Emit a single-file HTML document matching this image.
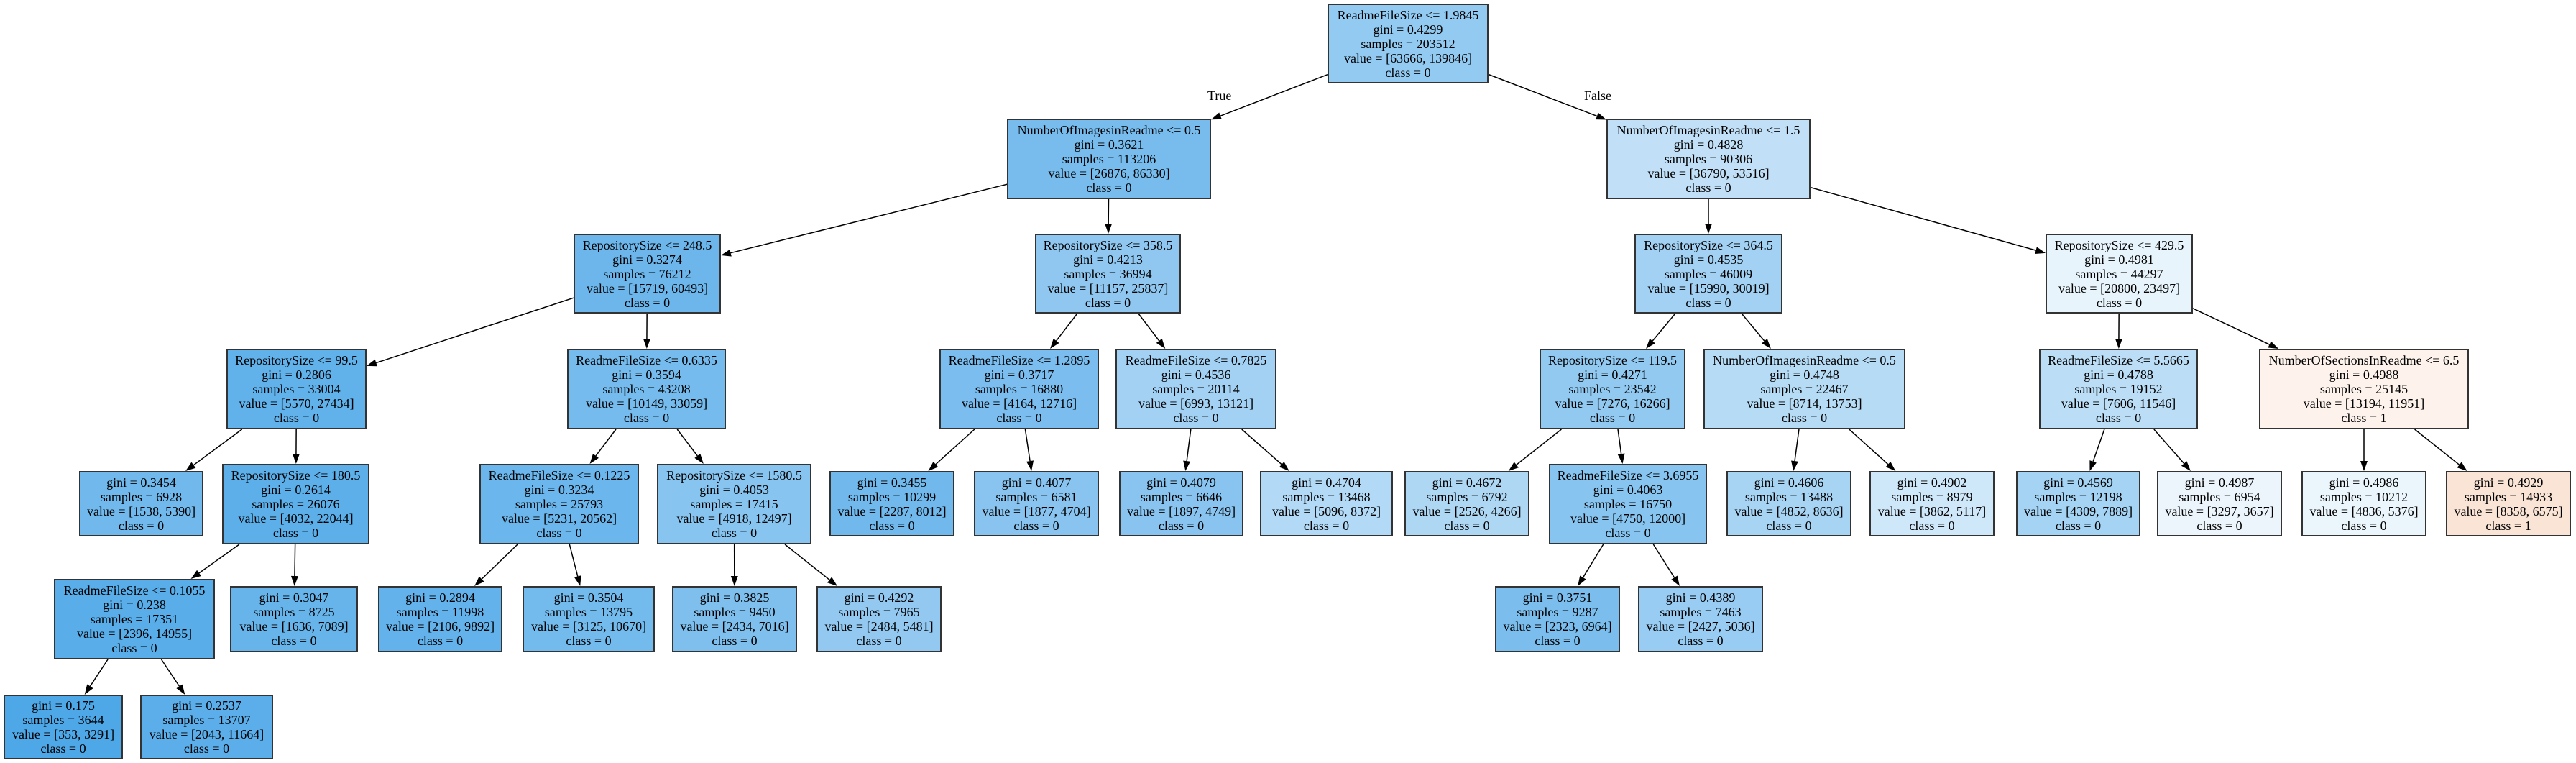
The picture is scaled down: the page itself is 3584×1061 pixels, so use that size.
<!DOCTYPE html>
<html><head><meta charset="utf-8">
<style>
html,body{margin:0;padding:0;background:#fff;}
#c{position:relative;width:3584px;height:1061px;overflow:hidden;font-family:"Liberation Serif",serif;font-size:18px;color:#000;}
.n{position:absolute;box-sizing:border-box;border:2px solid #333;display:flex;flex-direction:column;justify-content:center;align-items:center;line-height:20px;white-space:nowrap;text-align:center;}
.l{position:absolute;font-size:18px;}
svg{position:absolute;left:0;top:0;}
</style></head><body>
<div id="c">
<svg id="s" width="3584" height="1061"></svg>
<div class="l" style="left:1680px;top:123px">True</div>
<div class="l" style="left:2204px;top:123px">False</div>

<div class="n" id="n0" style="left:1847px;top:5px;width:224px;height:111px;background:rgb(147,202,241)"><div>ReadmeFileSize &lt;= 1.9845</div><div>gini = 0.4299</div><div>samples = 203512</div><div>value = [63666, 139846]</div><div>class = 0</div></div>

<div class="n" id="n1" style="left:1401px;top:165px;width:284px;height:112px;background:rgb(119,188,237)"><div>NumberOfImagesinReadme &lt;= 0.5</div><div>gini = 0.3621</div><div>samples = 113206</div><div>value = [26876, 86330]</div><div>class = 0</div></div>
<div class="n" id="n2" style="left:2235px;top:165px;width:284px;height:112px;background:rgb(193,224,247)"><div>NumberOfImagesinReadme &lt;= 1.5</div><div>gini = 0.4828</div><div>samples = 90306</div><div>value = [36790, 53516]</div><div>class = 0</div></div>

<div class="n" id="n3" style="left:798px;top:325px;width:205px;height:111px;background:rgb(108,182,236)"><div>RepositorySize &lt;= 248.5</div><div>gini = 0.3274</div><div>samples = 76212</div><div>value = [15719, 60493]</div><div>class = 0</div></div>
<div class="n" id="n4" style="left:1440px;top:325px;width:203px;height:111px;background:rgb(143,199,240)"><div>RepositorySize &lt;= 358.5</div><div>gini = 0.4213</div><div>samples = 36994</div><div>value = [11157, 25837]</div><div>class = 0</div></div>
<div class="n" id="n5" style="left:2274px;top:325px;width:206px;height:111px;background:rgb(162,209,243)"><div>RepositorySize &lt;= 364.5</div><div>gini = 0.4535</div><div>samples = 46009</div><div>value = [15990, 30019]</div><div>class = 0</div></div>
<div class="n" id="n6" style="left:2846px;top:325px;width:205px;height:111px;background:rgb(232,244,252)"><div>RepositorySize &lt;= 429.5</div><div>gini = 0.4981</div><div>samples = 44297</div><div>value = [20800, 23497]</div><div>class = 0</div></div>

<div class="n" id="n7" style="left:315px;top:485px;width:195px;height:112px;background:rgb(97,177,234)"><div>RepositorySize &lt;= 99.5</div><div>gini = 0.2806</div><div>samples = 33004</div><div>value = [5570, 27434]</div><div>class = 0</div></div>
<div class="n" id="n8" style="left:789px;top:485px;width:221px;height:112px;background:rgb(118,187,237)"><div>ReadmeFileSize &lt;= 0.6335</div><div>gini = 0.3594</div><div>samples = 43208</div><div>value = [10149, 33059]</div><div>class = 0</div></div>
<div class="n" id="n9" style="left:1307px;top:485px;width:222px;height:112px;background:rgb(122,189,238)"><div>ReadmeFileSize &lt;= 1.2895</div><div>gini = 0.3717</div><div>samples = 16880</div><div>value = [4164, 12716]</div><div>class = 0</div></div>
<div class="n" id="n10" style="left:1552px;top:485px;width:224px;height:112px;background:rgb(163,209,243)"><div>ReadmeFileSize &lt;= 0.7825</div><div>gini = 0.4536</div><div>samples = 20114</div><div>value = [6993, 13121]</div><div>class = 0</div></div>
<div class="n" id="n11" style="left:2142px;top:485px;width:203px;height:112px;background:rgb(146,201,241)"><div>RepositorySize &lt;= 119.5</div><div>gini = 0.4271</div><div>samples = 23542</div><div>value = [7276, 16266]</div><div>class = 0</div></div>
<div class="n" id="n12" style="left:2370px;top:485px;width:281px;height:112px;background:rgb(182,219,245)"><div>NumberOfImagesinReadme &lt;= 0.5</div><div>gini = 0.4748</div><div>samples = 22467</div><div>value = [8714, 13753]</div><div>class = 0</div></div>
<div class="n" id="n13" style="left:2837px;top:485px;width:221px;height:112px;background:rgb(187,222,246)"><div>ReadmeFileSize &lt;= 5.5665</div><div>gini = 0.4788</div><div>samples = 19152</div><div>value = [7606, 11546]</div><div>class = 0</div></div>
<div class="n" id="n14" style="left:3143px;top:485px;width:292px;height:112px;background:rgb(253,243,236)"><div>NumberOfSectionsInReadme &lt;= 6.5</div><div>gini = 0.4988</div><div>samples = 25145</div><div>value = [13194, 11951]</div><div>class = 1</div></div>

<div class="n" id="n15" style="left:110px;top:655px;width:173px;height:91px;background:rgb(113,185,236)"><div>gini = 0.3454</div><div>samples = 6928</div><div>value = [1538, 5390]</div><div>class = 0</div></div>
<div class="n" id="n16" style="left:309px;top:645px;width:205px;height:112px;background:rgb(93,175,234)"><div>RepositorySize &lt;= 180.5</div><div>gini = 0.2614</div><div>samples = 26076</div><div>value = [4032, 22044]</div><div>class = 0</div></div>
<div class="n" id="n17" style="left:667px;top:645px;width:222px;height:112px;background:rgb(107,182,236)"><div>ReadmeFileSize &lt;= 0.1225</div><div>gini = 0.3234</div><div>samples = 25793</div><div>value = [5231, 20562]</div><div>class = 0</div></div>
<div class="n" id="n18" style="left:914px;top:645px;width:215px;height:112px;background:rgb(135,196,239)"><div>RepositorySize &lt;= 1580.5</div><div>gini = 0.4053</div><div>samples = 17415</div><div>value = [4918, 12497]</div><div>class = 0</div></div>
<div class="n" id="n19" style="left:1154px;top:655px;width:174px;height:91px;background:rgb(113,185,236)"><div>gini = 0.3455</div><div>samples = 10299</div><div>value = [2287, 8012]</div><div>class = 0</div></div>
<div class="n" id="n20" style="left:1355px;top:655px;width:174px;height:91px;background:rgb(136,196,239)"><div>gini = 0.4077</div><div>samples = 6581</div><div>value = [1877, 4704]</div><div>class = 0</div></div>
<div class="n" id="n21" style="left:1557px;top:655px;width:173px;height:91px;background:rgb(136,196,239)"><div>gini = 0.4079</div><div>samples = 6646</div><div>value = [1897, 4749]</div><div>class = 0</div></div>
<div class="n" id="n22" style="left:1753px;top:655px;width:185px;height:91px;background:rgb(178,217,245)"><div>gini = 0.4704</div><div>samples = 13468</div><div>value = [5096, 8372]</div><div>class = 0</div></div>
<div class="n" id="n23" style="left:1954px;top:655px;width:174px;height:91px;background:rgb(174,215,244)"><div>gini = 0.4672</div><div>samples = 6792</div><div>value = [2526, 4266]</div><div>class = 0</div></div>
<div class="n" id="n24" style="left:2155px;top:645px;width:220px;height:112px;background:rgb(135,196,239)"><div>ReadmeFileSize &lt;= 3.6955</div><div>gini = 0.4063</div><div>samples = 16750</div><div>value = [4750, 12000]</div><div>class = 0</div></div>
<div class="n" id="n25" style="left:2402px;top:655px;width:174px;height:91px;background:rgb(168,212,244)"><div>gini = 0.4606</div><div>samples = 13488</div><div>value = [4852, 8636]</div><div>class = 0</div></div>
<div class="n" id="n26" style="left:2601px;top:655px;width:174px;height:91px;background:rgb(206,231,249)"><div>gini = 0.4902</div><div>samples = 8979</div><div>value = [3862, 5117]</div><div>class = 0</div></div>
<div class="n" id="n27" style="left:2805px;top:655px;width:173px;height:91px;background:rgb(165,211,243)"><div>gini = 0.4569</div><div>samples = 12198</div><div>value = [4309, 7889]</div><div>class = 0</div></div>
<div class="n" id="n28" style="left:3001px;top:655px;width:174px;height:91px;background:rgb(236,245,252)"><div>gini = 0.4987</div><div>samples = 6954</div><div>value = [3297, 3657]</div><div>class = 0</div></div>
<div class="n" id="n29" style="left:3202px;top:655px;width:174px;height:91px;background:rgb(235,245,252)"><div>gini = 0.4986</div><div>samples = 10212</div><div>value = [4836, 5376]</div><div>class = 0</div></div>
<div class="n" id="n30" style="left:3403px;top:655px;width:174px;height:91px;background:rgb(249,228,213)"><div>gini = 0.4929</div><div>samples = 14933</div><div>value = [8358, 6575]</div><div>class = 1</div></div>

<div class="n" id="n31" style="left:75px;top:805px;width:224px;height:112px;background:rgb(89,173,233)"><div>ReadmeFileSize &lt;= 0.1055</div><div>gini = 0.238</div><div>samples = 17351</div><div>value = [2396, 14955]</div><div>class = 0</div></div>
<div class="n" id="n32" style="left:320px;top:815px;width:178px;height:92px;background:rgb(103,180,235)"><div>gini = 0.3047</div><div>samples = 8725</div><div>value = [1636, 7089]</div><div>class = 0</div></div>
<div class="n" id="n33" style="left:526px;top:815px;width:173px;height:92px;background:rgb(99,178,235)"><div>gini = 0.2894</div><div>samples = 11998</div><div>value = [2106, 9892]</div><div>class = 0</div></div>
<div class="n" id="n34" style="left:727px;top:815px;width:184px;height:92px;background:rgb(115,186,237)"><div>gini = 0.3504</div><div>samples = 13795</div><div>value = [3125, 10670]</div><div>class = 0</div></div>
<div class="n" id="n35" style="left:935px;top:815px;width:174px;height:92px;background:rgb(126,191,238)"><div>gini = 0.3825</div><div>samples = 9450</div><div>value = [2434, 7016]</div><div>class = 0</div></div>
<div class="n" id="n36" style="left:1136px;top:815px;width:174px;height:92px;background:rgb(147,201,241)"><div>gini = 0.4292</div><div>samples = 7965</div><div>value = [2484, 5481]</div><div>class = 0</div></div>
<div class="n" id="n37" style="left:2080px;top:815px;width:174px;height:92px;background:rgb(123,190,238)"><div>gini = 0.3751</div><div>samples = 9287</div><div>value = [2323, 6964]</div><div>class = 0</div></div>
<div class="n" id="n38" style="left:2279px;top:815px;width:174px;height:92px;background:rgb(152,204,242)"><div>gini = 0.4389</div><div>samples = 7463</div><div>value = [2427, 5036]</div><div>class = 0</div></div>

<div class="n" id="n39" style="left:5px;top:966px;width:166px;height:90px;background:rgb(78,168,232)"><div>gini = 0.175</div><div>samples = 3644</div><div>value = [353, 3291]</div><div>class = 0</div></div>
<div class="n" id="n40" style="left:195px;top:966px;width:185px;height:90px;background:rgb(92,174,234)"><div>gini = 0.2537</div><div>samples = 13707</div><div>value = [2043, 11664]</div><div>class = 0</div></div>
</div>
<script>
(function(){
var E=[[0,1],[0,2],[1,3],[1,4],[2,5],[2,6],[3,7],[3,8],[4,9],[4,10],[5,11],[5,12],[6,13],[6,14],
[7,15],[7,16],[8,17],[8,18],[9,19],[9,20],[10,21],[10,22],[11,23],[11,24],[12,25],[12,26],[13,27],[13,28],[14,29],[14,30],
[16,31],[16,32],[17,33],[17,34],[18,35],[18,36],[24,37],[24,38],[31,39],[31,40]];
function box(i){var e=document.getElementById('n'+i);var x=e.offsetLeft,y=e.offsetTop,w=e.offsetWidth,h=e.offsetHeight;return {cx:x+w/2,cy:y+h/2,hw:w/2,hh:h/2};}
function clip(b,dx,dy){var tx=dx?b.hw/Math.abs(dx):1e9,ty=dy?b.hh/Math.abs(dy):1e9;return Math.min(tx,ty);}
var s='';
E.forEach(function(p){var a=box(p[0]),b=box(p[1]);var dx=b.cx-a.cx,dy=b.cy-a.cy;
var t1=clip(a,dx,dy),t2=clip(b,dx,dy);
var x1=a.cx+dx*t1,y1=a.cy+dy*t1,x2=b.cx-dx*t2,y2=b.cy-dy*t2;
var L=Math.sqrt((x2-x1)*(x2-x1)+(y2-y1)*(y2-y1));var ux=(x2-x1)/L,uy=(y2-y1)/L;
var al=14,aw=5;var bx=x2-ux*al,by=y2-uy*al;
s+='<line x1="'+x1+'" y1="'+y1+'" x2="'+bx+'" y2="'+by+'" stroke="#000" stroke-width="1.5"/>';
s+='<polygon points="'+x2+','+y2+' '+(bx-uy*aw)+','+(by+ux*aw)+' '+(bx+uy*aw)+','+(by-ux*aw)+'" fill="#000"/>';});
document.getElementById('s').innerHTML=s;})();
</script>
</body></html>
